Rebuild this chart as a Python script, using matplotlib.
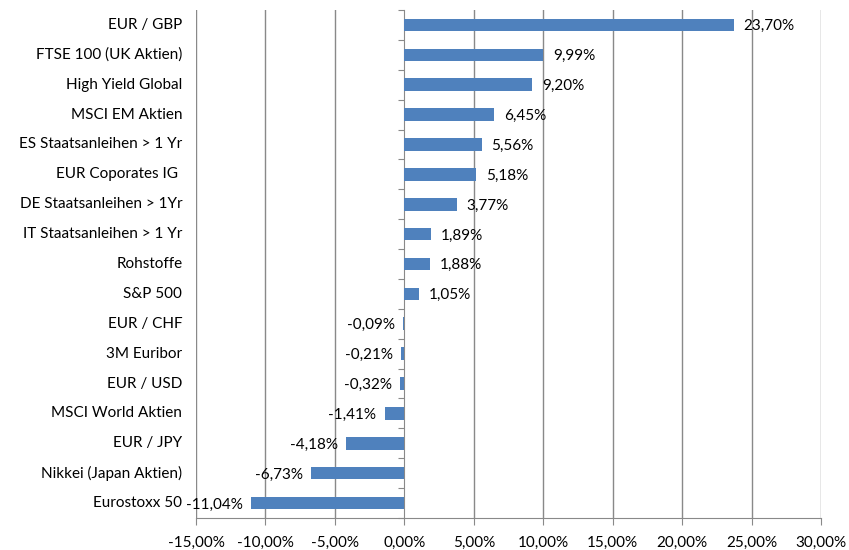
import matplotlib
matplotlib.use('Agg')
import matplotlib.pyplot as plt
import numpy as np
from matplotlib.ticker import FuncFormatter

categories = ['EUR / GBP', 'FTSE 100 (UK Aktien)', 'High Yield Global', 'MSCI EM Aktien',
              'ES Staatsanleihen > 1 Yr', 'EUR Coporates IG ', 'DE Staatsanleihen > 1Yr',
              'IT Staatsanleihen > 1 Yr', 'Rohstoffe', 'S&P 500', 'EUR / CHF', '3M Euribor',
              'EUR / USD', 'MSCI World Aktien', 'EUR / JPY', 'Nikkei (Japan Aktien)', 'Eurostoxx 50']
values = [23.70, 9.99, 9.20, 6.45, 5.56, 5.18, 3.77, 1.89, 1.88, 1.05,
          -0.09, -0.21, -0.32, -1.41, -4.18, -6.73, -11.04]
xticks = np.arange(-15, 31, 5)

plt.rcParams['font.family'] = ['Lato', 'DejaVu Sans']

def pct(v):
    return ('%.2f%%' % v).replace('.', ',')

fig = plt.figure(figsize=(8.49, 5.5), dpi=100)
ax = fig.add_axes([196 / 849, 1 - 518 / 550, 625 / 849, 508 / 550])

n = len(categories)
y = np.arange(n)[::-1]
grid_c = '#898989'
fs = 11

ax.barh(y, values, height=0.42, color='#4F81BD', zorder=3)

for yi, v in zip(y, values):
    if v >= 0:
        ax.annotate(pct(v), (v, yi), xytext=(7, -1), textcoords='offset points',
                    ha='left', va='center', fontsize=fs, zorder=4)
    else:
        ax.annotate(pct(v), (v, yi), xytext=(-6, -1), textcoords='offset points',
                    ha='right', va='center', fontsize=fs, zorder=4)
    ax.text(-0.022, yi, categories[n - 1 - yi], transform=ax.get_yaxis_transform(),
            ha='right', va='center', fontsize=fs)

ax.set_xlim(-15, 30)
ax.set_ylim(-0.5, n - 0.5)
ax.set_xticks(xticks)
ax.xaxis.set_major_formatter(FuncFormatter(lambda v, p: pct(v)))
for xv in xticks:
    if xv != 0:
        ax.axvline(xv, color=grid_c, lw=1, zorder=1)

ax.spines['top'].set_visible(False)
ax.spines['right'].set_visible(False)
ax.spines['left'].set_position(('data', 0))
ax.spines['left'].set_color(grid_c)
ax.spines['left'].set_zorder(2)
ax.spines['bottom'].set_color(grid_c)

ax.set_yticks(np.arange(-0.5, n, 1))
ax.set_yticklabels([])
ax.tick_params(axis='y', length=4, color=grid_c, direction='out')
ax.tick_params(axis='x', length=5, color=grid_c, labelsize=fs, pad=8)

fig.savefig('out.png', dpi=100)
